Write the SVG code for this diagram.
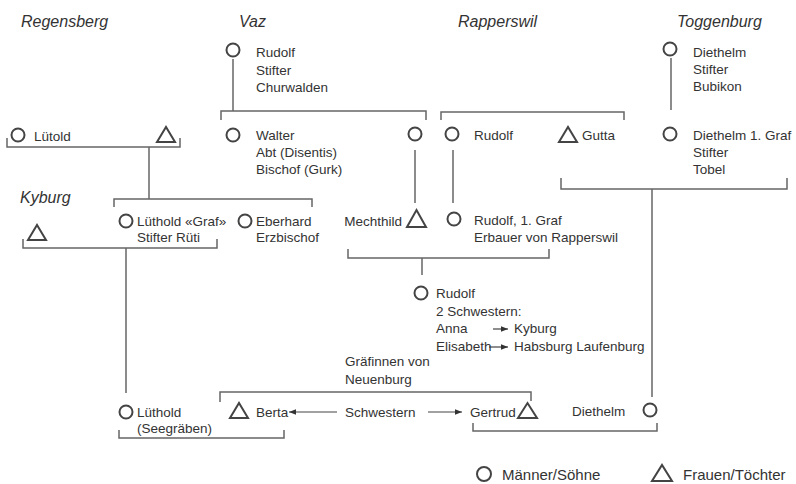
<svg xmlns="http://www.w3.org/2000/svg" width="796" height="484" viewBox="0 0 796 484">
<style>
  text { font-family: "Liberation Sans", Arial, sans-serif; font-size: 13.5px; fill: #333; }
  .title { font-size: 16px; font-style: italic; }
  .legend { font-size: 15px; }
  .m { fill: none; stroke: #444; stroke-width: 2; }
  .f { fill: none; stroke: #444; stroke-width: 2; stroke-linejoin: miter; }
  .ln { fill: none; stroke: #666; stroke-width: 1.5; }
  .ar { fill: none; stroke: #444; stroke-width: 1.2; }
</style>
<defs>
  <marker id="ah" viewBox="0 0 10 8" refX="10" refY="4" markerWidth="7" markerHeight="5.6" markerUnits="userSpaceOnUse" orient="auto">
    <path d="M0,0 L10,4 L0,8 Z" fill="#333"/>
  </marker>
</defs>

<g id="titles">
  <text class="title" x="21" y="27">Regensberg</text>
  <text class="title" x="239" y="27">Vaz</text>
  <text class="title" x="458" y="27">Rapperswil</text>
  <text class="title" x="677" y="27">Toggenburg</text>
  <text class="title" x="20" y="203">Kyburg</text>
</g>

<g id="connectors">
  <!-- Vaz -->
  <path class="ln" d="M233,59 V111"/>
  <path class="ln" d="M221,120 V111 H426 V120"/>
  <!-- Regensberg -->
  <path class="ln" d="M7,138 V147 H180 V138"/>
  <path class="ln" d="M149,147 V199"/>
  <path class="ln" d="M114,207 V199 H312 V207"/>
  <!-- Kyburg -->
  <path class="ln" d="M23,239 V248 H217 V239"/>
  <path class="ln" d="M126,248 V393"/>
  <!-- Rapperswil -->
  <path class="ln" d="M441,120 V112 H624 V120"/>
  <path class="ln" d="M415,150 V203"/>
  <path class="ln" d="M453,150 V203"/>
  <path class="ln" d="M348,249 V258 H549 V249"/>
  <path class="ln" d="M422,258 V275"/>
  <!-- Toggenburg -->
  <path class="ln" d="M671,58 V110"/>
  <path class="ln" d="M561,178 V189 H787 V178"/>
  <path class="ln" d="M652,189 V397"/>
  <!-- bottom -->
  <path class="ln" d="M220,402 V392 H531 V401"/>
  <path class="ln" d="M119,430 V438 H284 V430"/>
  <path class="ln" d="M473,423 V431 H657 V423"/>
  <!-- arrows -->
  <path class="ar" d="M337,412 H289" marker-end="url(#ah)"/>
  <path class="ar" d="M428,412 H462" marker-end="url(#ah)"/>
  <path class="ar" d="M493,329 H508" marker-end="url(#ah)"/>
  <path class="ar" d="M489,347 H508" marker-end="url(#ah)"/>
</g>

<g id="vaz-rudolf">
  <circle class="m" cx="233" cy="50" r="6.5"/>
  <text x="256" y="57">Rudolf</text>
  <text x="256" y="74.5">Stifter</text>
  <text x="256" y="92">Churwalden</text>
</g>

<g id="regensberg-luetold">
  <circle class="m" cx="18" cy="135" r="6.5"/>
  <text x="34" y="141">Lütold</text>
</g>
<g id="regensberg-tochter">
  <polygon class="f" points="157,142 175,142 166,127"/>
</g>

<g id="vaz-walter">
  <circle class="m" cx="233" cy="135" r="6.5"/>
  <text x="256" y="140">Walter</text>
  <text x="256" y="157">Abt (Disentis)</text>
  <text x="256" y="174">Bischof (Gurk)</text>
</g>
<g id="vaz-sohn">
  <circle class="m" cx="415" cy="134" r="6.5"/>
</g>

<g id="rapperswil-rudolf">
  <circle class="m" cx="452" cy="134" r="6.5"/>
  <text x="474" y="140">Rudolf</text>
</g>
<g id="rapperswil-gutta">
  <polygon class="f" points="559,142 577,142 568,127"/>
  <text x="582" y="140">Gutta</text>
</g>

<g id="toggenburg-diethelm">
  <circle class="m" cx="670" cy="49" r="6.5"/>
  <text x="693" y="57">Diethelm</text>
  <text x="693" y="74">Stifter</text>
  <text x="693" y="91">Bubikon</text>
</g>
<g id="toggenburg-diethelm-graf">
  <circle class="m" cx="670" cy="134" r="6.5"/>
  <text x="693" y="140">Diethelm 1. Graf</text>
  <text x="693" y="157">Stifter</text>
  <text x="693" y="174">Tobel</text>
</g>

<g id="kyburg-tochter">
  <polygon class="f" points="28,240 46,240 37,225"/>
</g>
<g id="luethold-graf">
  <circle class="m" cx="126" cy="221" r="6.5"/>
  <text x="137" y="226">Lüthold «Graf»</text>
  <text x="137" y="242">Stifter Rüti</text>
</g>
<g id="eberhard">
  <circle class="m" cx="245" cy="221" r="6.5"/>
  <text x="256" y="226">Eberhard</text>
  <text x="256" y="242">Erzbischof</text>
</g>

<g id="mechthild">
  <text x="402" y="226" text-anchor="end">Mechthild</text>
  <polygon class="f" points="407,227 426,227 416.5,210"/>
</g>
<g id="rudolf-graf">
  <circle class="m" cx="454" cy="219" r="6.5"/>
  <text x="474" y="225">Rudolf, 1. Graf</text>
  <text x="474" y="242">Erbauer von Rapperswil</text>
</g>

<g id="rudolf-jr">
  <circle class="m" cx="421" cy="293" r="6.5"/>
  <text x="436" y="298">Rudolf</text>
  <text x="436" y="316">2 Schwestern:</text>
  <text x="436" y="333">Anna</text>
  <text x="514" y="333">Kyburg</text>
  <text x="436" y="351">Elisabeth</text>
  <text x="514" y="351">Habsburg Laufenburg</text>
</g>

<g id="graefinnen-label">
  <text x="345" y="366">Gräfinnen von</text>
  <text x="345" y="384">Neuenburg</text>
</g>

<g id="luethold-seegraeben">
  <circle class="m" cx="126" cy="412" r="6.5"/>
  <text x="137" y="417">Lüthold</text>
  <text x="137" y="433">(Seegräben)</text>
</g>
<g id="berta">
  <polygon class="f" points="230,418 248,418 239,403"/>
  <text x="256" y="417">Berta</text>
</g>
<g id="schwestern-label">
  <text x="345" y="417">Schwestern</text>
</g>
<g id="gertrud">
  <text x="470" y="417">Gertrud</text>
  <polygon class="f" points="518,418 537,418 527.5,403"/>
</g>
<g id="diethelm-bottom">
  <text x="572" y="416">Diethelm</text>
  <circle class="m" cx="650" cy="410" r="6.5"/>
</g>

<g id="legend">
  <circle class="m" cx="484" cy="474" r="7"/>
  <text class="legend" x="502" y="480">Männer/Söhne</text>
  <polygon class="f" points="652,481 672,481 662,465"/>
  <text class="legend" x="683" y="480">Frauen/Töchter</text>
</g>
</svg>
